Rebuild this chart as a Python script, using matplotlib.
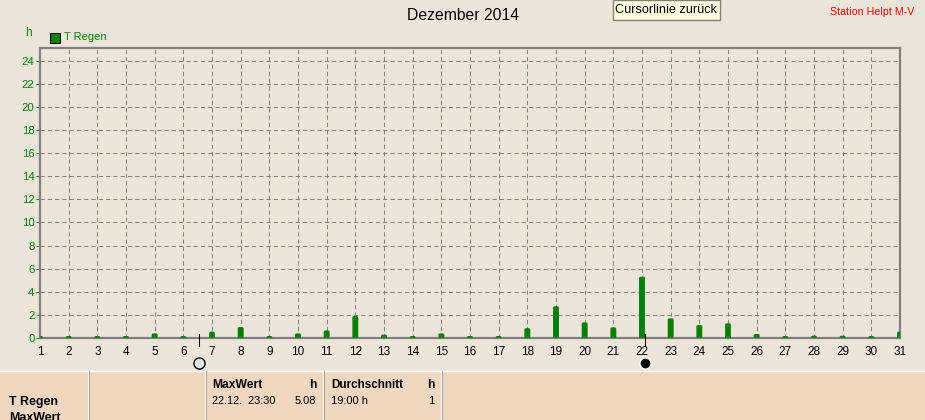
import matplotlib
matplotlib.use("Agg")
import matplotlib.pyplot as plt
from matplotlib.patches import Rectangle

plt.rcParams['font.family'] = ['Liberation Sans', 'DejaVu Sans']

days = list(range(1, 32))
regen = [0.12, 0.12, 0.12, 0.12, 0.4, 0.12, 0.55, 0.95, 0.12, 0.4,
         0.65, 1.9, 0.3, 0.12, 0.4, 0.12, 0.12, 0.85, 2.75, 1.35,
         0.92, 5.3, 1.7, 1.12, 1.27, 0.35, 0.15, 0.2, 0.2, 0.13, 0.55]
yticks = list(range(0, 25, 2))
cursor_days = [6.56, 22.1]

BG = "#ede5d9"
PANEL = "#f0d8c0"
GREEN = "#008000"
GRAY = "#808080"
W, H = 925, 420

fig = plt.figure(figsize=(W/100, H/100), dpi=100, facecolor=BG)

def px(x, y):
    return x/W, 1 - y/H

def label(x, y, s, **kw):
    kw.setdefault("fontsize", 8.5)
    kw.setdefault("va", "center")
    fig.text(x/W, 1 - y/H, s, **kw)

ax = fig.add_axes([40/W, 1 - 338/H, 860/W, 290/H], facecolor=BG)
ax.set_xlim(1, 31)
ax.set_ylim(0, 290/11.56)
# thick round edge gives the rounded bar tops, so take its half width off the height
edge = 0.12
ax.bar(days, [max(v - edge, 0.05) for v in regen], width=0.11, color=GREEN, edgecolor=GREEN,
       linewidth=2, joinstyle="round", zorder=5, snap=False)
ax.set_xticks(days)
ax.set_yticks(yticks)
ax.grid(True, color=GRAY, linestyle=(0, (4, 3)), linewidth=0.75)
ax.set_axisbelow(True)
ax.tick_params(axis="x", length=0, pad=6, labelsize=8.5, colors="black")
ax.tick_params(axis="y", length=3, width=0.75, pad=1, labelsize=8.2, colors=GREEN)
for s in ax.spines.values():
    s.set_color(GRAY)
    s.set_linewidth(1.6)
    s.set_zorder(4)

# cursor lines below the axis
for d, fc in zip(cursor_days, ["#e4e4e4", "black"]):
    ax.plot([d, d], [0.35, -0.7], color="black", linewidth=0.75, clip_on=False, zorder=6)
    ax.plot([d], [-2.15], marker="o", ms=8, mfc=fc, mec="black" if fc != "black" else "white",
            mew=1, clip_on=False, zorder=6)

# header
label(463.5, 15, "Dezember 2014", fontsize=11.3, ha="center")
label(872, 12, "Station Helpt M-V", color="red", fontsize=7.65, ha="center")
label(28, 33, "h", color=GREEN, ha="center")
label(64, 37, "T Regen", color=GREEN, fontsize=8)
fig.add_artist(Rectangle(px(50, 43), 10/W, 10/H, transform=fig.transFigure,
                         facecolor=GREEN, edgecolor="black", linewidth=0.75))
fig.add_artist(Rectangle(px(612.5, 20), 107/W, 20/H, transform=fig.transFigure,
                         facecolor="#ffffe1", edgecolor=GRAY, linewidth=1))
label(615, 10, "Cursorlinie zurück", fontsize=9.1)

# table at the bottom
fig.add_artist(Rectangle((0, 0), 1, 49/H, transform=fig.transFigure,
                         facecolor=PANEL, edgecolor="none"))
fig.add_artist(plt.Line2D([0, 1], [49/H, 49/H], color="white", linewidth=1))
for x in [88, 205, 323, 441]:
    fig.add_artist(plt.Line2D([(x-0.5)/W, (x-0.5)/W], [0, 49/H], color="white", linewidth=0.75))
    fig.add_artist(plt.Line2D([(x+0.5)/W, (x+0.5)/W], [0, 49/H], color="#a0a0a0", linewidth=0.75))

label(9, 402, "T Regen", fontweight="bold", fontsize=8.9)
label(9, 418, "MaxWert", fontweight="bold", fontsize=8.9)
label(212, 385, "MaxWert", fontweight="bold", fontsize=8.7)
label(316, 385, "h", fontweight="bold", fontsize=8.7, ha="right")
label(212, 401, "22.12.  23:30", fontsize=7.9)
label(316, 401, "5.08", fontsize=8, ha="right")
label(331, 385, "Durchschnitt", fontweight="bold", fontsize=8.4)
label(434, 385, "h", fontweight="bold", fontsize=8.7, ha="right")
label(331, 401, "19:00 h", fontsize=8)
label(434, 401, "1", fontsize=8, ha="right")

fig.savefig("out.png", dpi=100, facecolor=BG)
